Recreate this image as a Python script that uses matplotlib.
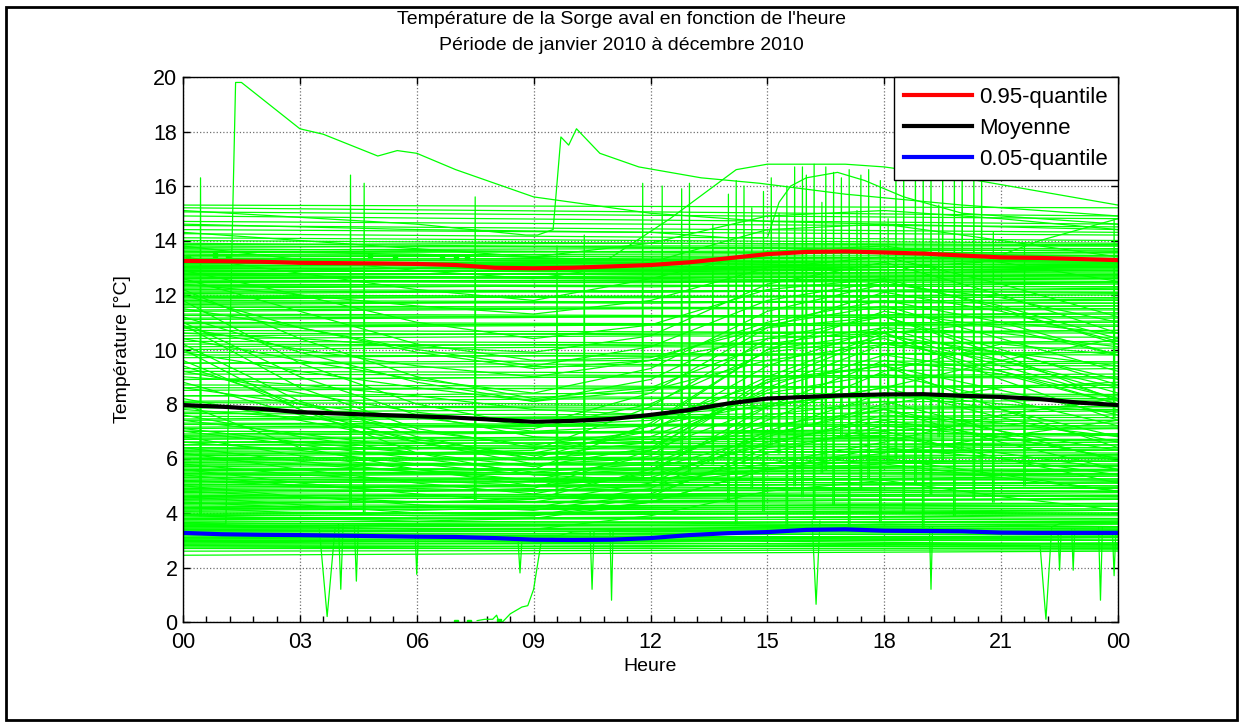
import numpy as np
import matplotlib
matplotlib.use('Agg')
import matplotlib.pyplot as plt
from matplotlib.ticker import MultipleLocator
from matplotlib.patches import Rectangle

plt.rcParams['font.family'] = ['Liberation Sans', 'DejaVu Sans']

# hourly quantiles / mean (hours 0..24)
q_hours = list(range(25))
q95 = [13.25, 13.24, 13.22, 13.18, 13.17, 13.16, 13.14, 13.1, 13.0, 12.98, 13.0, 13.05, 13.1,
       13.2, 13.35, 13.5, 13.58, 13.6, 13.56, 13.52, 13.45, 13.38, 13.36, 13.32, 13.28]
moyenne = [7.96, 7.9, 7.82, 7.7, 7.65, 7.6, 7.55, 7.5, 7.42, 7.35, 7.38, 7.45, 7.6,
           7.78, 8.02, 8.2, 8.26, 8.32, 8.35, 8.36, 8.3, 8.26, 8.18, 8.05, 7.96]
q05 = [3.27, 3.22, 3.2, 3.19, 3.17, 3.15, 3.13, 3.12, 3.08, 3.02, 3.01, 3.02, 3.08,
       3.19, 3.26, 3.3, 3.38, 3.4, 3.35, 3.34, 3.33, 3.28, 3.27, 3.27, 3.27]

# nearly flat days: value at 00h and at 24h
flat_start = [2.45, 2.6, 2.7, 2.75, 2.8, 2.85, 2.9, 2.95, 3.0, 3.05, 3.1,
              3.15, 3.2, 3.25, 3.3, 3.35, 3.4, 3.45, 3.5, 3.55, 3.6,
              3.7, 3.75, 3.8, 3.9, 3.95, 4.0, 4.1, 4.15, 4.2, 4.3,
              4.35, 4.4, 4.5, 4.55, 4.6, 4.7, 4.8, 4.85, 4.9, 5.0,
              5.1, 5.15, 5.2, 5.3, 5.4, 5.5, 5.55, 5.6, 5.7, 5.8,
              5.9, 6.0, 6.1, 6.2, 6.3, 6.4, 6.5, 6.6, 6.7, 6.8,
              6.9, 7.0, 7.1, 7.25, 7.4, 7.55, 7.7, 7.9, 8.1, 8.3,
              8.5, 8.7, 8.9, 9.1, 9.3, 9.5, 9.7, 9.9, 10.1, 10.3,
              10.5, 10.7, 10.85, 11.0, 11.15, 11.3, 11.45, 11.6, 11.7, 11.8,
              11.9, 12.0, 12.1, 12.2, 12.3, 12.4, 12.5, 12.55, 12.6, 12.7,
              12.75, 12.8, 12.85, 12.9, 12.95, 13.0, 13.05, 13.1, 13.15, 13.2,
              13.25, 13.3, 13.4, 13.5, 13.6, 13.7, 13.8, 13.9, 14.0, 14.1,
              14.25, 14.4, 14.55, 14.7, 14.9, 15.05, 15.2, 15.3]
flat_end = [2.6, 2.65, 2.7, 2.8, 2.75, 2.9, 2.85, 3.0, 3.1, 3.0, 3.15,
            3.1, 3.3, 3.2, 3.35, 3.45, 3.5, 3.4, 3.6, 3.5, 3.7,
            3.65, 3.9, 3.75, 4.0, 4.1, 3.95, 4.25, 4.1, 4.35, 4.25,
            4.5, 4.35, 4.65, 4.5, 4.8, 4.65, 4.95, 4.8, 5.1, 4.9,
            5.25, 5.1, 5.4, 5.25, 5.6, 5.45, 5.75, 5.55, 5.9, 5.7,
            6.05, 5.9, 6.3, 6.1, 6.5, 6.3, 6.7, 6.5, 6.9, 6.7,
            7.1, 6.9, 7.3, 7.15, 7.6, 7.4, 7.9, 7.8, 8.3, 8.2,
            8.7, 8.6, 9.1, 9.0, 9.5, 9.4, 9.9, 9.8, 10.3, 10.2,
            10.7, 10.6, 11.0, 10.9, 11.3, 11.2, 11.6, 11.5, 11.8, 11.7,
            12.0, 11.9, 12.2, 12.1, 12.4, 12.3, 12.6, 12.45, 12.7, 12.6,
            12.85, 12.7, 12.95, 12.8, 13.05, 12.9, 13.15, 13.0, 13.25, 13.1,
            13.3, 13.2, 13.45, 13.3, 13.55, 13.45, 13.7, 13.6, 13.8, 13.9,
            14.0, 14.2, 14.3, 14.5, 14.6, 14.8, 14.9, 15.2]

# steady days: values at 00h, 12h, 24h
steady_hours = [0, 12, 24]
steady_days = [
    [2.7, 2.8, 2.75], [2.8, 2.75, 2.9], [2.9, 3.0, 2.85], [3.0, 2.95, 3.1], [3.05, 3.15, 3.0],
    [3.1, 3.2, 3.25], [3.2, 3.1, 3.15], [3.3, 3.35, 3.45], [3.4, 3.3, 3.35], [3.45, 3.55, 3.5],
    [3.55, 3.6, 3.7], [3.65, 3.55, 3.6], [3.75, 3.85, 3.8], [3.85, 3.8, 3.95], [3.95, 4.05, 4.0],
    [4.05, 3.95, 4.1], [4.15, 4.25, 4.3], [4.25, 4.2, 4.15], [4.35, 4.45, 4.5], [4.45, 4.4, 4.55],
    [4.55, 4.65, 4.6], [4.65, 4.6, 4.75], [4.75, 4.85, 4.8], [4.85, 4.8, 4.95], [4.95, 5.05, 5.0],
    [5.05, 5.0, 5.15], [5.15, 5.25, 5.2], [5.25, 5.2, 5.35], [5.35, 5.45, 5.4], [5.45, 5.4, 5.55],
    [5.55, 5.65, 5.6], [5.65, 5.6, 5.75], [5.75, 5.85, 5.8], [5.85, 5.8, 5.95], [5.95, 6.05, 6.0],
    [6.05, 6.0, 6.15], [6.15, 6.25, 6.2], [6.25, 6.2, 6.35], [6.35, 6.45, 6.4], [6.5, 6.45, 6.6],
    [6.6, 6.7, 6.65], [6.75, 6.7, 6.85], [6.85, 6.95, 6.9], [7.0, 6.95, 7.1], [7.15, 7.25, 7.2],
    [7.3, 7.25, 7.4], [7.45, 7.55, 7.5], [7.65, 7.6, 7.75], [7.85, 7.95, 7.9], [8.05, 8.0, 8.15],
    [8.3, 8.4, 8.35], [8.6, 8.55, 8.7], [8.9, 9.0, 8.95], [9.2, 9.15, 9.3], [9.5, 9.6, 9.55],
    [9.8, 9.75, 9.9], [10.0, 10.1, 10.05], [10.2, 10.15, 10.3], [10.4, 10.5, 10.45], [10.6, 10.55, 10.7],
    [10.8, 10.9, 10.85], [10.95, 10.9, 11.05], [11.1, 11.2, 11.15], [11.25, 11.2, 11.35], [11.4, 11.5, 11.45],
    [11.55, 11.5, 11.6], [11.65, 11.75, 11.7], [11.75, 11.7, 11.85], [11.85, 11.95, 11.9], [11.95, 11.9, 12.05],
    [12.05, 12.15, 12.1], [12.15, 12.1, 12.25], [12.25, 12.35, 12.3], [12.35, 12.3, 12.45], [12.45, 12.55, 12.5],
    [12.5, 12.45, 12.6], [12.6, 12.7, 12.65], [12.65, 12.6, 12.75], [12.7, 12.8, 12.75], [12.8, 12.75, 12.9],
    [12.85, 12.95, 12.9], [12.9, 12.85, 13.0], [12.95, 13.05, 13.0], [13.0, 12.95, 13.1], [13.05, 13.15, 13.1],
    [13.1, 13.05, 13.15], [13.15, 13.25, 13.2], [13.2, 13.15, 13.3], [13.3, 13.35, 13.4], [13.35, 13.3, 13.45],
    [13.45, 13.5, 13.55], [13.55, 13.6, 13.65], [13.65, 13.7, 13.7], [13.75, 13.8, 13.8], [13.85, 13.9, 13.85],
]

# days with a daily cycle: values at 00,03,...,24h
cycle_hours = [0, 3, 6, 9, 12, 15, 18, 21, 24]
cycle_days = [
    [11.8, 9.5, 8.0, 7.2, 7.4, 8.8, 9.4, 8.5, 7.6],
    [12.2, 10.4, 9.0, 8.2, 8.6, 10.2, 10.8, 9.6, 8.4],
    [10.9, 8.6, 7.1, 6.4, 6.8, 8.4, 9.1, 8.2, 7.2],
    [10.2, 8.1, 6.8, 6.0, 6.3, 7.9, 8.6, 7.5, 6.6],
    [9.6, 7.8, 6.6, 5.8, 6.0, 7.2, 7.8, 7.0, 6.3],
    [11.2, 9.9, 8.8, 8.1, 8.9, 10.9, 11.6, 10.4, 9.2],
    [8.8, 7.6, 6.7, 6.1, 6.6, 8.5, 9.8, 9.2, 8.2],
    [7.6, 6.8, 6.2, 5.7, 6.4, 8.6, 10.2, 9.6, 8.6],
    [6.8, 6.1, 5.6, 5.2, 6.1, 8.8, 10.5, 9.9, 8.9],
    [6.2, 5.6, 5.1, 4.7, 5.5, 7.9, 9.6, 9.1, 8.0],
    [5.6, 5.1, 4.7, 4.4, 5.1, 7.0, 8.4, 7.8, 6.8],
    [5.0, 4.6, 4.3, 4.1, 4.7, 6.2, 7.2, 6.8, 6.0],
    [4.6, 4.3, 4.0, 3.9, 4.4, 5.6, 6.4, 6.0, 5.4],
    [8.2, 7.4, 6.6, 6.0, 7.2, 10.0, 11.4, 10.8, 9.8],
    [9.2, 8.4, 7.7, 7.2, 8.4, 10.8, 12.1, 11.4, 10.3],
    [10.4, 9.6, 8.9, 8.4, 9.3, 11.4, 12.4, 11.9, 11.0],
    [7.0, 6.5, 6.0, 5.5, 5.8, 7.4, 9.2, 10.2, 9.8],
    [7.4, 6.9, 6.4, 6.2, 7.0, 9.4, 10.8, 10.6, 10.1],
    [12.6, 11.4, 10.2, 9.6, 9.7, 10.8, 11.2, 10.0, 8.7],
    [12.9, 12.0, 11.0, 10.4, 10.9, 12.2, 12.6, 11.5, 10.2],
    [13.4, 12.8, 12.2, 11.8, 12.6, 13.6, 13.8, 13.2, 12.5],
    [13.8, 13.3, 12.9, 12.6, 13.2, 14.4, 14.6, 14.0, 13.4],
    [14.3, 14.0, 13.7, 13.4, 13.9, 14.9, 15.1, 14.8, 14.4],
    [4.8, 4.6, 4.4, 4.5, 5.6, 7.6, 8.1, 7.0, 5.9],
    [5.4, 5.0, 4.8, 4.9, 6.3, 8.9, 9.4, 7.8, 6.4],
    [6.4, 5.9, 5.5, 5.6, 7.3, 10.0, 10.6, 8.9, 7.4],
    [7.1, 6.6, 6.2, 6.3, 7.9, 10.4, 11.2, 9.8, 8.1],
    [3.9, 3.8, 3.7, 3.8, 4.4, 5.6, 6.0, 5.4, 4.8],
    [4.2, 4.0, 3.9, 3.9, 4.6, 6.4, 7.0, 6.0, 5.1],
    [8.6, 8.0, 7.5, 7.0, 7.2, 8.0, 8.4, 8.0, 7.7],
    [9.9, 9.2, 8.6, 8.1, 8.5, 9.6, 10.2, 9.9, 9.4],
    [10.8, 10.0, 9.4, 9.0, 9.6, 11.0, 11.8, 11.0, 9.8],
    [11.5, 10.8, 10.0, 9.4, 10.1, 11.8, 12.5, 11.6, 10.4],
    [9.4, 8.0, 7.0, 6.5, 7.0, 9.0, 10.6, 11.0, 10.6],
    [6.0, 5.8, 5.5, 5.2, 5.2, 5.8, 6.6, 7.6, 8.2],
    [5.2, 5.0, 4.9, 4.8, 5.0, 5.6, 6.2, 6.8, 7.4],
    [11.0, 9.0, 7.6, 6.8, 6.6, 6.9, 6.8, 6.2, 5.6],
    [10.0, 7.8, 6.2, 5.4, 5.2, 5.6, 5.8, 5.3, 4.8],
    [12.0, 10.8, 9.9, 9.3, 9.6, 10.4, 10.6, 9.4, 8.2],
    [8.0, 6.4, 5.6, 5.0, 5.3, 6.6, 7.4, 6.8, 6.0],
    [3.6, 3.5, 3.4, 3.4, 3.9, 4.8, 5.2, 4.6, 4.1],
    [6.6, 6.3, 5.8, 5.4, 5.6, 6.8, 8.0, 8.6, 8.8],
    [9.0, 8.7, 8.3, 7.8, 7.6, 7.9, 8.6, 9.6, 10.4],
    [12.4, 12.0, 11.6, 11.3, 11.8, 13.0, 13.4, 12.4, 11.2],
    [10.6, 10.4, 10.1, 9.9, 10.5, 12.4, 13.2, 12.0, 10.6],
    [7.8, 7.5, 7.2, 7.1, 8.0, 9.9, 10.4, 9.2, 8.0],
    [5.8, 5.4, 5.2, 5.0, 5.4, 6.5, 7.6, 7.3, 6.8],
    [4.4, 4.2, 4.1, 4.2, 4.9, 6.9, 7.8, 6.6, 5.6],
]

# unusual days, each with its own time stamps
odd_hours = [
    [0, 1.1, 1.35, 1.5, 3.0, 3.6, 5.0, 5.5, 6.0, 7.0, 8.0, 9.0, 10.5, 12.0, 15.0, 18.0, 21.0, 24.0],
    [0, 6.0, 8.8, 9.1, 9.5, 9.7, 9.9, 10.1, 10.7, 11.7, 13.3, 14.8, 17.0, 20.0, 24.0],
    [0, 6.0, 10.9, 12.5, 14.2, 15.0, 17.0, 18.0, 19.0, 20.0, 22.0, 24.0],
    [0, 6.0, 12.0, 14.0, 15.0, 15.3, 15.6, 16.0, 16.8, 17.5, 18.5, 20.0, 24.0],
    [0, 6.0, 12.0, 18.0, 20.5, 22.0, 24.0],
    [7.55, 7.75, 7.95, 8.05, 8.1, 8.2, 8.4, 8.7, 8.85, 9.0, 9.2, 10.0, 12.0, 18.0, 24.0],
    [0, 12.0, 22.0, 22.15, 22.3, 22.5, 24.0],
]
odd_values = [
    [3.6, 3.6, 19.8, 19.8, 18.1, 17.9, 17.1, 17.3, 17.2, 16.6, 16.1, 15.6, 15.3, 15.0, 14.7, 14.6, 14.5, 14.4],
    [15.1, 14.6, 14.2, 14.2, 14.4, 17.8, 17.5, 18.1, 17.2, 16.7, 16.3, 16.1, 15.7, 15.3, 14.9],
    [13.6, 13.5, 13.3, 14.8, 16.6, 16.8, 16.8, 16.7, 16.5, 16.3, 15.8, 15.3],
    [14.6, 14.4, 14.3, 14.1, 14.1, 15.4, 16.0, 16.3, 16.5, 16.2, 15.6, 15.0, 14.6],
    [13.0, 12.9, 12.9, 13.0, 13.2, 14.0, 14.8],
    [0.05, 0.1, 0.1, 0.25, 0.05, 0.0, 0.3, 0.55, 0.6, 1.2, 3.0, 3.3, 3.4, 3.6, 3.5],
    [3.0, 2.9, 2.8, 0.1, 3.5, 3.6, 3.6],
]

# single-sample spikes upward
up_spike_h = [0.45, 4.3, 4.65, 7.5, 11.8, 12.3, 12.8, 13.0, 14.0, 14.2, 14.4, 14.9, 15.1, 15.5,
              15.7, 15.9, 16.0, 16.2, 16.5, 16.7, 16.9, 17.1, 17.4, 17.6, 17.9, 18.3, 18.5, 18.8,
              19.0, 19.2, 19.5, 19.8, 20.0, 20.3, 20.5, 9.6, 10.3, 13.6, 14.6, 15.3, 16.4, 17.3,
              18.1, 19.4, 20.8, 21.6, 23.9]
up_spike_top = [16.3, 16.4, 16.1, 15.6, 16.1, 16.0, 15.9, 16.1, 15.7, 16.2, 16.0, 15.8, 16.3, 16.0,
                16.7, 16.7, 16.4, 16.8, 16.7, 16.5, 16.3, 16.6, 16.4, 16.6, 16.2, 16.8, 17.0, 16.9,
                17.0, 16.8, 17.0, 16.9, 17.0, 16.9, 16.8, 13.8, 14.2, 14.6, 15.2, 15.0, 15.4, 15.1,
                14.8, 15.3, 14.3, 13.9, 14.8]
up_spike_base = [3.9, 4.2, 4.0, 4.5, 5.2, 4.8, 6.1, 5.5, 4.4, 3.6, 5.8, 4.1, 6.5, 3.4,
                 5.0, 4.6, 7.2, 3.8, 5.6, 4.3, 6.8, 3.5, 4.9, 5.3, 3.7, 6.0, 4.0, 5.1,
                 3.3, 4.7, 5.9, 3.9, 6.3, 4.5, 5.4, 4.6, 5.2, 5.8, 4.9, 6.2, 5.5, 7.0,
                 5.9, 6.8, 4.4, 5.0, 7.5]

# single-sample drops
down_spike_h = [3.7, 4.05, 4.45, 6.0, 8.65, 10.5, 11.0, 16.25, 19.2, 22.5, 22.85, 23.55, 23.9]
down_spike_low = [0.2, 1.2, 1.5, 1.75, 1.8, 1.2, 0.8, 0.65, 1.2, 1.9, 1.9, 0.8, 1.7]
down_spike_base = [3.4, 3.6, 3.5, 3.2, 3.0, 3.3, 3.4, 3.7, 3.5, 3.3, 3.4, 3.5, 3.2]
down_spike_w = [0.2, 0.06, 0.05, 0.04, 0.05, 0.05, 0.04, 0.1, 0.04, 0.04, 0.04, 0.05, 0.04]

# isolated points
dot_h = [0.13, 0.82, 1.15, 4.8, 5.45, 6.65, 7.0, 7.3, 7.0, 7.35, 8.1]
dot_v = [13.4, 13.45, 13.4, 13.45, 13.4, 13.4, 13.4, 13.4, 0.0, 0.0, 0.05]

green = '#00ff00'
glw = 0.9

fig = plt.figure(figsize=(12.43, 7.26), dpi=100)
ax = fig.add_axes([183 / 1243, 104 / 726, 935 / 1243, 545 / 726])

for s, e in zip(flat_start, flat_end):
    ax.plot([0, 24], [s, e], color=green, lw=glw)
for day in steady_days:
    ax.plot(steady_hours, day, color=green, lw=glw)
for day in cycle_days:
    ax.plot(cycle_hours, day, color=green, lw=glw)
for hh, vv in zip(odd_hours, odd_values):
    ax.plot(hh, vv, color=green, lw=glw)
for h, top, base in zip(up_spike_h, up_spike_top, up_spike_base):
    ax.plot([h - 0.02, h, h + 0.02], [base, top, base], color=green, lw=glw)
for h, low, base, w in zip(down_spike_h, down_spike_low, down_spike_base, down_spike_w):
    ax.plot([h - w, h, h + w], [base, low, base], color=green, lw=glw)
ax.plot(dot_h, dot_v, 's', color=green, ms=3, ls='none')

ax.plot(q_hours, q95, color='red', lw=3, label='0.95-quantile')
ax.plot(q_hours, moyenne, color='black', lw=3, label='Moyenne')
ax.plot(q_hours, q05, color='blue', lw=3, label='0.05-quantile')

ax.set_xlim(0, 24)
ax.set_ylim(0, 20)
ax.set_xticks(range(0, 25, 3))
ax.set_xticklabels(['00', '03', '06', '09', '12', '15', '18', '21', '00'])
ax.set_yticks(range(0, 21, 2))
ax.xaxis.set_minor_locator(MultipleLocator(0.6))
ax.tick_params(which='major', direction='in', length=5, width=1, top=True, right=True,
               labelsize=15.5)
ax.tick_params(axis='x', which='major', pad=7)
ax.tick_params(axis='y', which='major', pad=4)
ax.tick_params(axis='x', which='minor', direction='in', length=4, width=1, top=False, bottom=True)
ax.grid(True, which='major', linestyle=':', color='#707070', lw=0.9)
for sp in ax.spines.values():
    sp.set_linewidth(1)

ax.set_xlabel('Heure', fontsize=14, labelpad=4)
ax.set_ylabel('Température [°C]', fontsize=14, labelpad=16)

leg = ax.legend(loc='upper right', fontsize=16, fancybox=False, framealpha=1,
                edgecolor='black', borderaxespad=0, handlelength=3.05, handletextpad=0.32,
                labelspacing=0.45, borderpad=0.45)
leg.get_frame().set_linewidth(1)

fig.text(0.5, 1 - 19 / 726, "Température de la Sorge aval en fonction de l'heure",
         ha='center', va='center', fontsize=14)
fig.text(0.5, 1 - 45 / 726, 'Période de janvier 2010 à décembre 2010',
         ha='center', va='center', fontsize=14)

fig.patches.append(Rectangle((6 / 1243, 6 / 726), 1231 / 1243, 713 / 726,
                             transform=fig.transFigure, fill=False, edgecolor='black', lw=2))

fig.savefig('out.png', dpi=100)
